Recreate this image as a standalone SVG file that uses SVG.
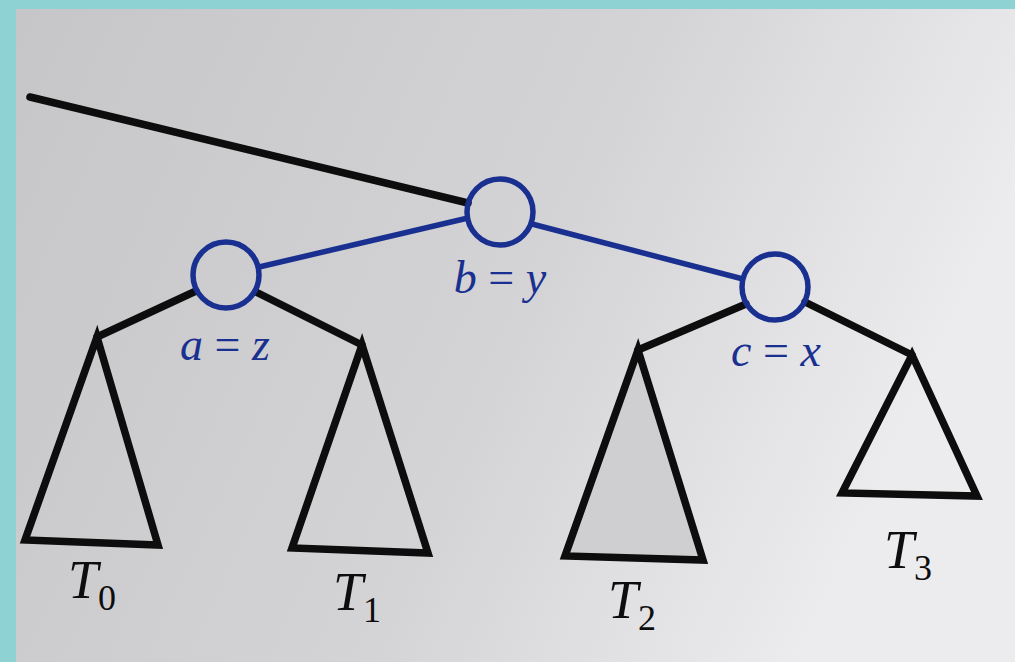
<svg xmlns="http://www.w3.org/2000/svg" width="1015" height="662" viewBox="0 0 1015 662">
<defs>
<linearGradient id="paper" x1="0" y1="0" x2="1" y2="0.3">
<stop offset="0" stop-color="#c6c6c8"/>
<stop offset="0.6" stop-color="#d4d4d6"/>
<stop offset="1" stop-color="#ececee"/>
</linearGradient>
</defs>
<style>
.blk{stroke:#0d0d0d;stroke-width:7.5;fill:none;stroke-linecap:round}
.tri{stroke:#0d0d0d;stroke-width:7.5;fill:none;stroke-linejoin:miter}
.tri.shade{fill:#cfcfd1}
.blu{stroke:#1a3090;stroke-width:5.5;fill:none}
.node{stroke:#1a3090;stroke-width:5.5;fill:none}
.lbl{font-family:"Liberation Serif","Times New Roman",serif;font-size:46px;fill:#1a3090}
.tl{font-family:"Liberation Serif","Times New Roman",serif;font-size:54px;fill:#0d0d0d}
.it{font-style:italic}
</style>
<rect x="0" y="0" width="1015" height="662" fill="#8fd2d4"/>
<rect x="16" y="9" width="999" height="653" fill="url(#paper)"/>
<g id="connectors">
<line class="blk" x1="30" y1="97" x2="468" y2="203"/>
<line class="blu" x1="259" y1="267" x2="468" y2="218"/>
<line class="blu" x1="532" y1="224" x2="743" y2="279"/>
<line class="blk" x1="196" y1="291" x2="97" y2="337"/>
<line class="blk" x1="256" y1="292" x2="362" y2="345"/>
<line class="blk" x1="746" y1="304" x2="638" y2="350"/>
<line class="blk" x1="805" y1="302" x2="912" y2="355"/>
</g>
<g id="node-b">
<circle class="node" cx="500" cy="212" r="33"/>
<text class="lbl" x="500" y="293" text-anchor="middle"><tspan class="it">b</tspan> = <tspan class="it">y</tspan></text>
</g>
<g id="node-a">
<circle class="node" cx="226" cy="275" r="33"/>
<text class="lbl" x="225" y="360" text-anchor="middle"><tspan class="it">a</tspan> = <tspan class="it">z</tspan></text>
</g>
<g id="node-c">
<circle class="node" cx="775" cy="287" r="33"/>
<text class="lbl" x="776" y="366" text-anchor="middle"><tspan class="it">c</tspan> = <tspan class="it">x</tspan></text>
</g>
<g id="T0">
<polygon class="tri" points="97,337 158,545 25,540"/>
<text class="tl" x="68" y="598"><tspan class="it">T</tspan><tspan font-size="36" dy="12">0</tspan></text>
</g>
<g id="T1">
<polygon class="tri" points="362,345 428,553 292,548"/>
<text class="tl" x="333" y="610"><tspan class="it">T</tspan><tspan font-size="36" dy="12">1</tspan></text>
</g>
<g id="T2">
<polygon class="tri shade" points="638,350 703,560 565,556"/>
<text class="tl" x="608" y="618"><tspan class="it">T</tspan><tspan font-size="36" dy="12">2</tspan></text>
</g>
<g id="T3">
<polygon class="tri" points="912,355 977,496 842,493"/>
<text class="tl" x="884" y="568"><tspan class="it">T</tspan><tspan font-size="36" dy="12">3</tspan></text>
</g>
</svg>
